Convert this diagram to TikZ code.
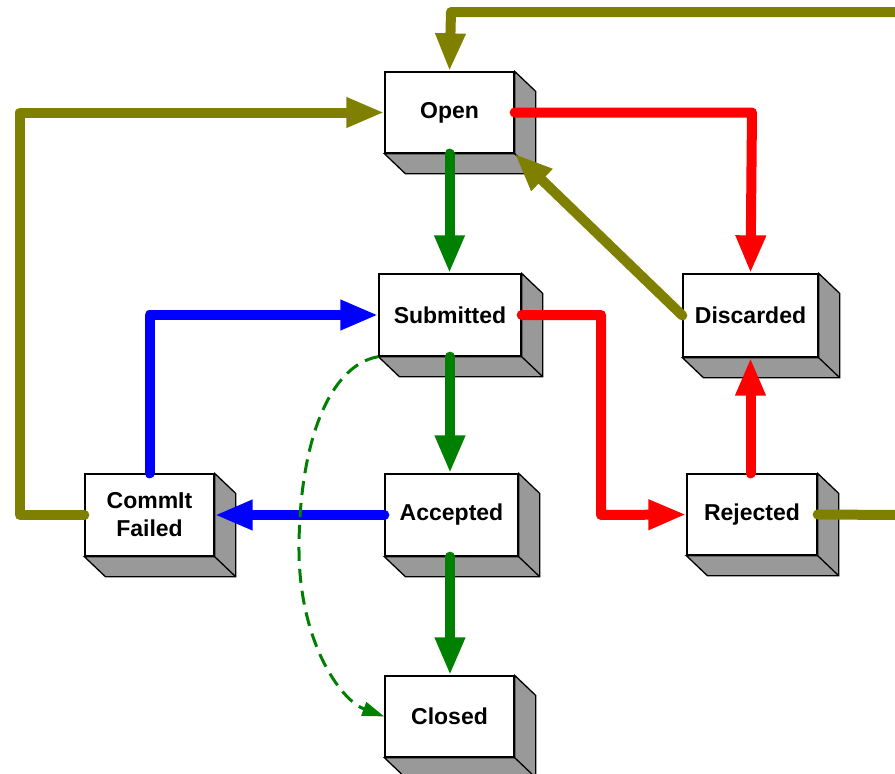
\documentclass[tikz,border=0pt]{standalone}
\usepackage{fontspec}
\setmainfont{Liberation Sans}
\usetikzlibrary{arrows.meta}
\definecolor{olv}{HTML}{808000}
\definecolor{grn}{HTML}{008000}
\definecolor{rd}{HTML}{FF0000}
\definecolor{bl}{HTML}{0000FF}
\definecolor{face}{HTML}{999999}
\begin{document}
\begin{tikzpicture}[x=1pt,y=-1pt,
  state/.style={draw=black, line width=1.3pt, fill=white, inner sep=0pt, align=center,
    font=\bfseries\fontsize{23}{28}\selectfont},
  face3d/.style={fill=face, draw=black, line width=1.3pt, line join=miter},
  conn/.style={line width=10pt, line cap=round, line join=round,
    -{Triangle[length=38pt,width=28pt]}},
  plain/.style={line width=10pt, line cap=round, line join=round},
  dashconn/.style={line width=3pt, dash pattern=on 14pt off 8pt,
    -{Triangle[length=22pt,width=14pt]}}]
\useasboundingbox (0,0) rectangle (895,774);

% states
\node[state, minimum width=129pt, minimum height=81pt] (open) at (449.5,112.5) {Open};
\node[state, minimum width=142pt, minimum height=82pt] (sub) at (450,315) {Submitted};
\node[state, minimum width=135pt, minimum height=83pt] (disc) at (750.5,315.5) {Discarded};
\node[state, minimum width=129pt, minimum height=82pt] (cf) at (149.5,515) {CommIt\\Failed};
\node[state, minimum width=133pt, minimum height=82pt] (acc) at (451.5,515) {Accepted};
\node[state, minimum width=130pt, minimum height=81pt] (rej) at (752,514.5) {Rejected};
\node[state, minimum width=129pt, minimum height=81pt] (closed) at (449.5,716.5) {Closed};

% 3D extrusion
\foreach \n in {open,sub,disc,cf,acc,rej,closed}{
  \filldraw[face3d] (\n.north east) -- ([shift={(21,20)}]\n.north east)
    -- ([shift={(21,20)}]\n.south east) -- ([shift={(21,20)}]\n.south west)
    -- (\n.south west) -- (\n.south east) -- cycle;
  \draw[black, line width=1.3pt] (\n.south east) -- ([shift={(21,20)}]\n.south east);
}

% free ends
\coordinate (topR) at (900,12);
\coordinate (rejR) at (900,515);

% connectors
\draw[conn, olv] (topR) -- (451,12) -- (open.north);
\draw[conn, olv] (cf.west) -- (20,515) -- (20,112.5) -- (open.west);
\draw[conn, rd] (open.east) -- (752,112.5) -- (disc.north);
\draw[conn, grn] (open.south) -- (open.south |- sub.north);
\draw[conn, olv] (disc.west) -- (open.south east);
\draw[conn, bl] (cf.north) -- (149.5,315) -- (sub.west);
\draw[conn, rd] (sub.east) -- (601,315) -- (601,515) -- (rej.west);
\draw[conn, grn] (sub.south) -- (sub.south |- acc.north);
\draw[conn, bl] (acc.west) -- (cf.east);
\draw[conn, grn] (acc.south -| sub.south) -- (closed.north -| sub.south);
\draw[conn, rd] (rej.north -| disc.south) -- (disc.south);
\draw[plain, olv] (rej.east) -- (rejR);
\draw[dashconn, grn] (sub.south west) .. controls (330,365) and (300,440) .. (299,545)
  .. controls (298,640) and (340,700) .. (closed.west);
\end{tikzpicture}
\end{document}
